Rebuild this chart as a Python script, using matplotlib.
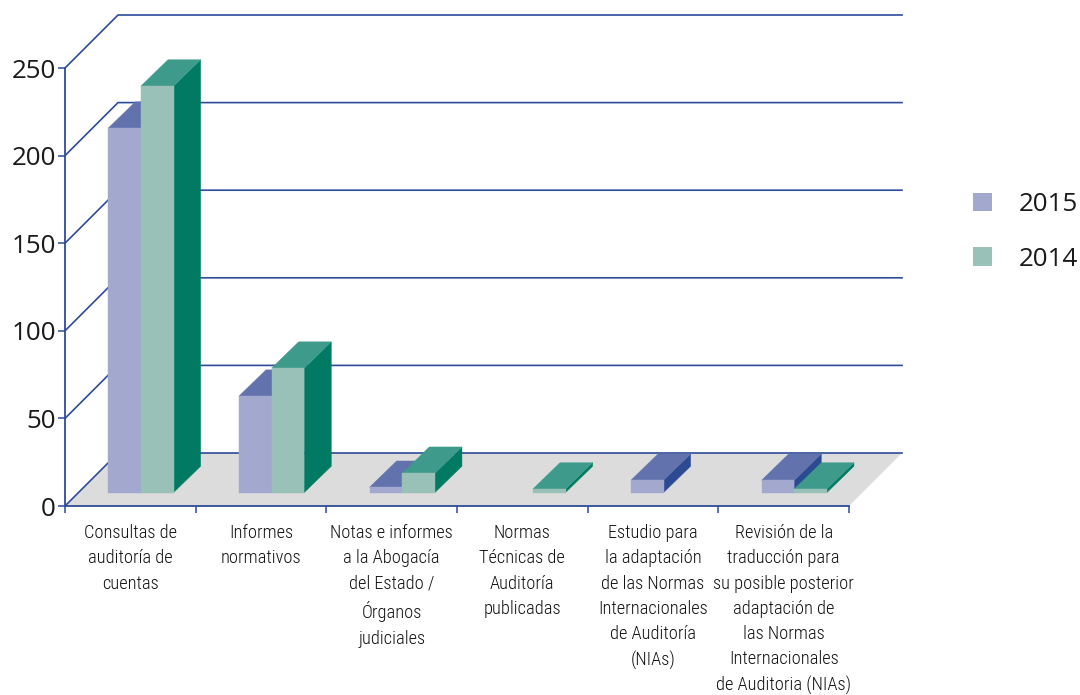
import matplotlib

matplotlib.use("Agg")

import matplotlib.pyplot as plt
from matplotlib.patches import Patch, Polygon

categories = [
    "Consultas de\nauditoría de\ncuentas",
    "Informes\nnormativos",
    "Notas e informes\na la Abogacía\ndel Estado /\nÓrganos\njudiciales",
    "Normas\nTécnicas de\nAuditoría\npublicadas",
    "Estudio para\nla adaptación\nde las Normas\nInternacionales\nde Auditoría\n(NIAs)",
    "Revisión de la\ntraducción para\nsu posible posterior\nadaptación de\nlas Normas\nInternacionales\nde Auditoria (NIAs)",
]
values_2015 = [208, 55, 3, 0, 7, 7]
values_2014 = [232, 71, 11, 2, 0, 2]
y_ticks = [0, 50, 100, 150, 200, 250]

BLUE = "#2e4c9a"
COLORS_2015 = ("#a3a9ce", "#6172ac", "#2b4a92")  # front, top, side
COLORS_2014 = ("#9ac1b7", "#3e9b8b", "#007a62")

# 3d look, all in data units (1 category wide, y in chart values)
WALL_DX = 0.4056
WALL_DY = 30.25
BAR_W = 0.25
BAR_START = 0.331
BAR_DX = 0.207
BAR_DY = 15.0
BAR_BASE = 7.7

plt.rcParams["font.family"] = ["Open Sans", "DejaVu Sans"]

fig = plt.figure(figsize=(10.8, 6.95), dpi=100)
ax = fig.add_axes([65 / 1080, 189 / 695, 784 / 1080, 438 / 695])
ax.set_xlim(0, len(categories))
ax.set_ylim(0, 250)
ax.patch.set_visible(False)


def draw_bar(x, value, colors):
    if value <= 0:
        return
    front, top, side = colors
    y0, y1 = BAR_BASE, BAR_BASE + value
    x1 = x + BAR_W
    faces = [
        ([(x1, y0), (x1 + BAR_DX, y0 + BAR_DY), (x1 + BAR_DX, y1 + BAR_DY), (x1, y1)], side),
        ([(x, y1), (x1, y1), (x1 + BAR_DX, y1 + BAR_DY), (x + BAR_DX, y1 + BAR_DY)], top),
        ([(x, y0), (x1, y0), (x1, y1), (x, y1)], front),
    ]
    for pts, color in faces:
        ax.add_patch(Polygon(pts, closed=True, fc=color, ec=color, lw=0.3, zorder=3, clip_on=False))


n = len(categories)
ax.add_patch(
    Polygon(
        [(0, 0), (n, 0), (n + WALL_DX, WALL_DY), (WALL_DX, WALL_DY)],
        closed=True, fc="#dcdcdc", ec="none", zorder=1, clip_on=False,
    )
)
for v in y_ticks:
    ax.plot(
        [0, WALL_DX, n + WALL_DX], [v, v + WALL_DY, v + WALL_DY],
        color=BLUE, lw=1.2, zorder=2, clip_on=False,
    )

for i in range(n):
    draw_bar(i + BAR_START, values_2015[i], COLORS_2015)
    draw_bar(i + BAR_START + BAR_W, values_2014[i], COLORS_2014)

for side in ("top", "right"):
    ax.spines[side].set_visible(False)
for side in ("left", "bottom"):
    ax.spines[side].set_color(BLUE)
    ax.spines[side].set_linewidth(1.3)
    ax.spines[side].set_zorder(4)

ax.set_yticks(y_ticks)
ax.tick_params(axis="y", length=5, width=1.1, color=BLUE, labelsize=18.7, pad=1.5, labelcolor="#1a1a1a")
ax.set_xticks(range(n + 1))
ax.set_xticklabels([])
ax.tick_params(axis="x", which="major", length=5, width=1.1, color=BLUE)
ax.set_xticks([i + 0.5 for i in range(n)], minor=True)
ax.set_xticklabels(
    categories, minor=True, family=["Roboto Condensed", "Open Sans"], fontweight=300,
    fontsize=13.2, linespacing=1.52, color="#111111",
)
ax.tick_params(axis="x", which="minor", length=0, pad=13)

handles = [Patch(fc=COLORS_2015[0], ec="none"), Patch(fc=COLORS_2014[0], ec="none")]
fig.legend(
    handles, ["2015", "2014"], loc="upper left", bbox_to_anchor=(973 / 1080, 1 - 192 / 695),
    frameon=False, fontsize=18.7, labelcolor="#1a1a1a", borderpad=0, borderaxespad=0,
    handlelength=0.73, handleheight=0.73, handletextpad=1.04, labelspacing=1.15,
)

fig.savefig("out.png", dpi=100)
